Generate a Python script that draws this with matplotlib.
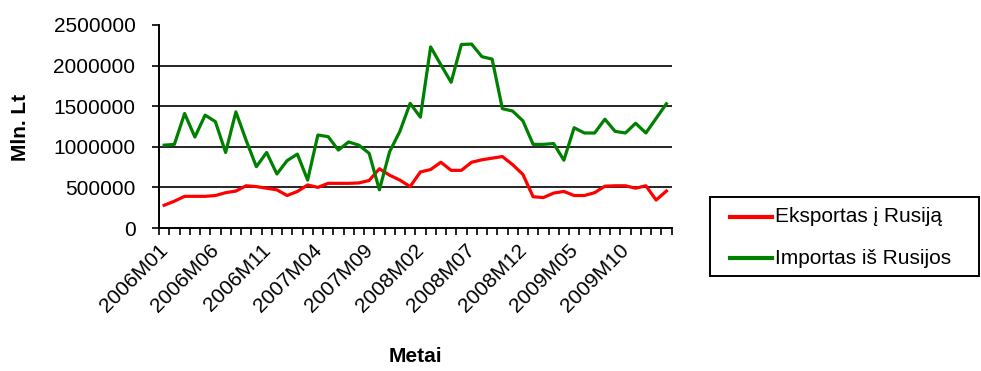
import numpy as np
import matplotlib
matplotlib.use("Agg")
import matplotlib.pyplot as plt
import matplotlib.transforms as mtransforms
from matplotlib.patches import Rectangle
from matplotlib.lines import Line2D
from matplotlib.ticker import FixedLocator, FixedFormatter

plt.rcParams['font.family'] = ['Liberation Sans', 'DejaVu Sans']

# monthly periods 2006M01 .. 2010M02
years = [2006, 2007, 2008, 2009, 2010]
months = ['%dM%02d' % (y, m) for y in years for m in range(1, 13)][:50]

eksportas = [280000, 330000, 390000, 390000, 390000, 400000, 435000, 455000, 520000, 510000,
             490000, 470000, 400000, 450000, 530000, 500000, 550000, 550000, 550000, 555000,
             585000, 730000, 650000, 590000, 510000, 690000, 720000, 810000, 710000, 710000,
             810000, 840000, 860000, 880000, 780000, 660000, 385000, 375000, 430000, 450000,
             400000, 400000, 435000, 515000, 520000, 520000, 490000, 520000, 345000, 455000]

importas = [1020000, 1030000, 1410000, 1120000, 1390000, 1310000, 930000, 1430000, 1080000, 755000,
            930000, 665000, 830000, 910000, 590000, 1145000, 1125000, 960000, 1060000, 1020000,
            920000, 470000, 940000, 1190000, 1535000, 1365000, 2230000, 2010000, 1795000, 2260000,
            2265000, 2110000, 2080000, 1470000, 1440000, 1320000, 1030000, 1030000, 1040000, 835000,
            1235000, 1170000, 1170000, 1340000, 1190000, 1170000, 1290000, 1170000, 1350000, 1530000]

series_names = ['Eksportas į Rusiją', 'Importas iš Rusijos']
series_colors = ['#ff0000', '#008000']

y_ticks = [0, 500000, 1000000, 1500000, 2000000, 2500000]

W, H = 981, 371
fig = plt.figure(figsize=(W / 100, H / 100), dpi=100)
fig.patch.set_facecolor('white')

left, right, top, bottom = 159, 671.5, 25, 228
ax = fig.add_axes([left / W, 1 - bottom / H, (right - left) / W, (bottom - top) / H])

x = np.arange(len(months))
ax.plot(x, eksportas, color=series_colors[0], lw=2.3)
ax.plot(x, importas, color=series_colors[1], lw=2.3)

ax.set_xlim(-0.5, len(months) - 0.5)
ax.set_ylim(0, 2500000)

# horizontal gridlines (no line at top value)
for v in y_ticks[1:-1]:
    ax.axhline(v, color='black', lw=1.2, zorder=0.5)

for s in ['top', 'right']:
    ax.spines[s].set_visible(False)
for s in ['left', 'bottom']:
    ax.spines[s].set_linewidth(1.4)

ax.yaxis.set_major_locator(FixedLocator(y_ticks))
ax.yaxis.set_major_formatter(FixedFormatter([str(v) for v in y_ticks]))
ax.tick_params(axis='y', direction='out', length=5, width=1.2, labelsize=15, pad=12)

lab_pos = list(range(0, len(months), 5))
ax.xaxis.set_major_locator(FixedLocator(lab_pos))
ax.xaxis.set_major_formatter(FixedFormatter([months[i] for i in lab_pos]))
ax.xaxis.set_minor_locator(FixedLocator(np.arange(-0.5, len(months), 1.0)))
ax.tick_params(axis='x', which='major', length=0, labelsize=15, pad=9)
ax.tick_params(axis='x', which='minor', direction='out', length=5, width=1.2)
shift = mtransforms.ScaledTranslation(-6 / 100, 0, fig.dpi_scale_trans)
for t in ax.get_xticklabels():
    t.set_rotation(45)
    t.set_ha('right')
    t.set_va('top')
    t.set_rotation_mode('anchor')
    t.set_transform(t.get_transform() + shift)

fig.text(20 / W, 1 - 127 / H, 'Mln. Lt', rotation=90, ha='center', va='center',
         fontsize=15, fontweight='bold')
fig.text(415 / W, 1 - 357 / H, 'Metai', ha='center', va='center',
         fontsize=15, fontweight='bold')

# legend box drawn in pixel coordinates
def px(xp, yp):
    return xp / W, 1 - yp / H

lx0, ly0, lx1, ly1 = 710, 197, 979, 276
fig.patches.append(Rectangle(px(lx0, ly1), (lx1 - lx0) / W, (ly1 - ly0) / H,
                             transform=fig.transFigure, facecolor='white',
                             edgecolor='black', lw=1.4))
for k, (name, col) in enumerate(zip(series_names, series_colors)):
    yy = 216.5 + k * 41.7
    (xa, ya), (xb, _) = px(730, yy), px(772, yy)
    fig.add_artist(Line2D([xa, xb], [ya, ya], transform=fig.transFigure, color=col, lw=3))
    fig.text(775 / W, ya, name, ha='left', va='center', fontsize=15)

fig.savefig('out.png', dpi=100, facecolor='white')
